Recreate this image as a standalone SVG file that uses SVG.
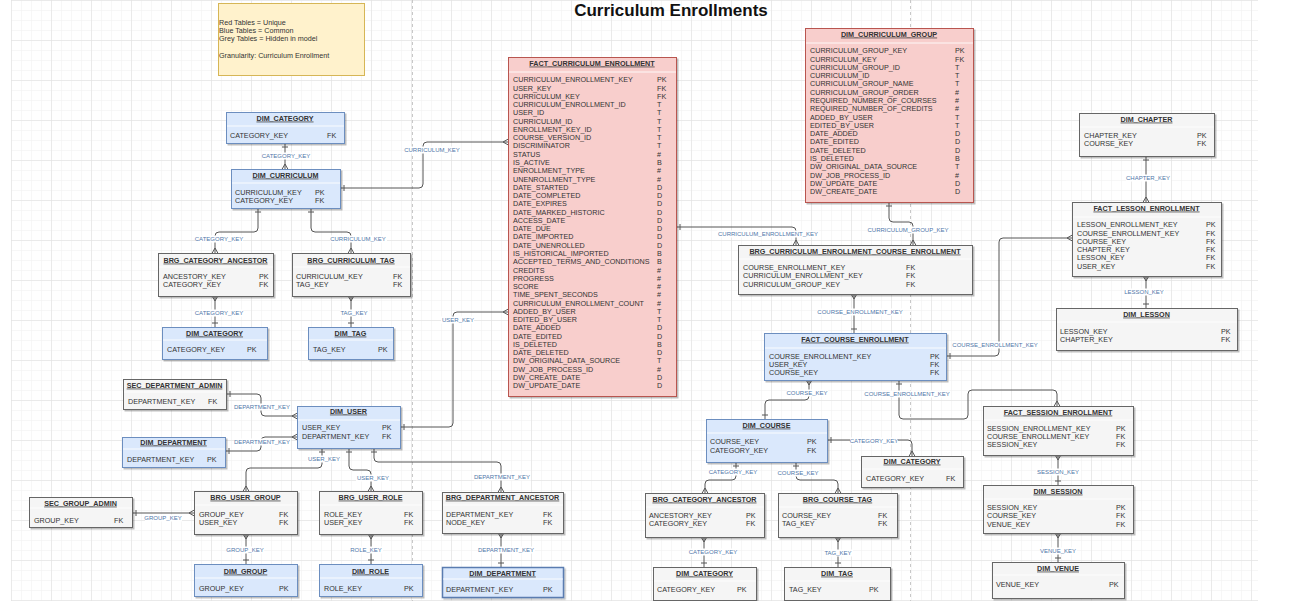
<svg xmlns="http://www.w3.org/2000/svg" width="1312" height="601" viewBox="0 0 1312 601">
<defs>
<pattern id="gmin" x="11" y="0" width="10" height="10" patternUnits="userSpaceOnUse"><path d="M10 0H0V10" fill="none" stroke="#efefef" stroke-width="1"/></pattern>
<pattern id="gmaj" x="11" y="0" width="40" height="40" patternUnits="userSpaceOnUse"><path d="M40 0H0V40" fill="none" stroke="#dedede" stroke-width="1"/></pattern>
<filter id="sh" x="-10%" y="-10%" width="130%" height="130%"><feDropShadow dx="1.5" dy="1.5" stdDeviation="0.7" flood-color="#000" flood-opacity="0.25"/></filter>
<marker id="one" markerUnits="userSpaceOnUse" orient="auto-start-reverse" overflow="visible" markerWidth="1" markerHeight="1" refX="0" refY="0"><path d="M-4,-3 L-4,3" stroke="#555" stroke-width="1" fill="none"/></marker>
<marker id="many" markerUnits="userSpaceOnUse" orient="auto-start-reverse" overflow="visible" markerWidth="1" markerHeight="1" refX="0" refY="0"><path d="M-5,0 L0,-2.8 M-5,0 L0,2.8" stroke="#555" stroke-width="1" fill="none"/></marker>
<style>
text{font-family:"Liberation Sans",Arial,sans-serif}
.box{stroke-width:1;filter:url(#sh)}
.blue .box{fill:#dae8fc;stroke:#6c8ebf}
.red .box{fill:#f8cecc;stroke:#b85450}
.grey .box{fill:#f5f5f5;stroke:#666}
.sep{stroke:#fff;stroke-opacity:.85;stroke-width:1}
.ttl{font-size:7.2px;font-weight:bold;text-anchor:middle;text-decoration:underline;fill:#333}
.row{font-size:7.2px;fill:#333}
.lbl{font-size:6px;fill:#4f76a8;text-anchor:middle}
.lb{fill:#fff}
.cn{fill:none;stroke:#555;stroke-width:1}
.om{marker-start:url(#one);marker-end:url(#many)}
.mo{marker-start:url(#many);marker-end:url(#one)}
</style>
</defs>
<rect width="1312" height="601" fill="#fff"/>
<rect x="11" y="0" width="1247" height="601" fill="url(#gmin)"/>
<rect x="11" y="0" width="1247" height="601" fill="url(#gmaj)"/>
<g stroke="#c8c8c8" stroke-dasharray="3,3"><line x1="412.5" y1="0" x2="412.5" y2="601"/><line x1="910.5" y1="0" x2="910.5" y2="601"/></g>

<text x="671" y="16" font-size="17" font-weight="bold" text-anchor="middle" fill="#111" font-family="Liberation Sans, Arial, sans-serif">Curriculum Enrollments</text>

<g id="legend">
<rect x="218.5" y="3.5" width="146" height="72" fill="#fff2cc" stroke="#d6b656"/>
<text class="row" x="219" y="24.5">Red Tables = Unique</text>
<text class="row" x="219" y="32.8">Blue Tables = Common</text>
<text class="row" x="219" y="41.1">Grey Tables = Hidden in model</text>
<text class="row" x="219" y="57.7">Granularity: Curriculum Enrollment</text>
</g>

<g id="connectors">
<path class="cn om" d="M285,143 L285,169"/>
<path class="cn om" d="M340,188 L419,188 Q423,188 423,184 L423,146 Q423,142 427,142 L508,142"/>
<path class="cn om" d="M258,208 L258,228 Q258,232 254,232 L219,232 Q215,232 215,236 L215,253"/>
<path class="cn om" d="M311,208 L311,228 Q311,232 315,232 L347,232 Q351,232 351,236 L351,253"/>
<path class="cn mo" d="M215,296 L215,327"/>
<path class="cn mo" d="M351,296 L351,327"/>
<path class="cn om" d="M226,394 L257,394 Q261,394 261,398 L261,412 Q261,416 265,416 L297,416"/>
<path class="cn om" d="M225,451 L257,451 Q261,451 261,447 L261,441 Q261,437 265,437 L297,437"/>
<path class="cn om" d="M400,427 L449,427 Q453,427 453,423 L453,316 Q453,312 457,312 L508,312"/>
<path class="cn om" d="M322,448 L322,464 Q322,468 318,468 L250,468 Q246,468 246,472 L246,491"/>
<path class="cn om" d="M349,448 L349,466 Q349,470 353,470 L367,470 Q371,470 371,474 L371,491"/>
<path class="cn om" d="M374,448 L374,458 Q374,462 378,462 L497,462 Q501,462 501,466 L501,492"/>
<path class="cn om" d="M132,513 L194,513"/>
<path class="cn mo" d="M246,534 L246,564"/>
<path class="cn mo" d="M371,534 L371,564"/>
<path class="cn mo" d="M501,533 L501,567"/>
<path class="cn om" d="M676,227 L792,227 Q796,227 796,231 L796,245"/>
<path class="cn om" d="M889,202 L889,218 Q889,222 893,222 L909,222 Q913,222 913,226 L913,245"/>
<path class="cn mo" d="M854,294 L854,333"/>
<path class="cn om" d="M946,356 L995,356 Q999,356 999,352 L999,242 Q999,238 1003,238 L1072,238"/>
<path class="cn om" d="M1146,156 L1146,202"/>
<path class="cn mo" d="M1146,276 L1146,308"/>
<path class="cn mo" d="M809,380 L809,396 Q809,400 805,400 L769,400 Q765,400 765,404 L765,419"/>
<path class="cn om" d="M899,380 L899,415 Q899,419 903,419 L964,419 Q968,419 968,415 L968,394 Q968,390 972,390 L1053,390 Q1057,390 1057,394 L1057,406"/>
<path class="cn om" d="M827,440 L908,440 Q912,440 912,444 L912,456"/>
<path class="cn om" d="M736,462 L736,476 Q736,480 732,480 L709,480 Q705,480 705,484 L705,493"/>
<path class="cn om" d="M796,462 L796,476 Q796,480 800,480 L834,480 Q838,480 838,484 L838,493"/>
<path class="cn mo" d="M704,537 L704,567"/>
<path class="cn mo" d="M838,537 L838,567"/>
<path class="cn mo" d="M1058,455 L1058,485"/>
<path class="cn mo" d="M1058,533 L1058,562"/>
<g>
<rect class="lb" x="262" y="152.5" width="48" height="7"/><text class="lbl" x="286" y="158.2">CATEGORY_KEY</text>
<rect class="lb" x="404" y="146.5" width="57" height="7"/><text class="lbl" x="432" y="152.2">CURRICULUM_KEY</text>
<rect class="lb" x="195" y="235.5" width="48" height="7"/><text class="lbl" x="219" y="241.2">CATEGORY_KEY</text>
<rect class="lb" x="330" y="235.5" width="57" height="7"/><text class="lbl" x="358" y="241.2">CURRICULUM_KEY</text>
<rect class="lb" x="195" y="309.5" width="48" height="7"/><text class="lbl" x="219" y="315.2">CATEGORY_KEY</text>
<rect class="lb" x="340" y="309.5" width="29" height="7"/><text class="lbl" x="354" y="315.2">TAG_KEY</text>
<rect class="lb" x="234" y="403.5" width="57" height="7"/><text class="lbl" x="262" y="409.2">DEPARTMENT_KEY</text>
<rect class="lb" x="234" y="438.5" width="57" height="7"/><text class="lbl" x="262" y="444.2">DEPARTMENT_KEY</text>
<rect class="lb" x="441" y="316.5" width="33" height="7"/><text class="lbl" x="458" y="322.2">USER_KEY</text>
<rect class="lb" x="307" y="455.5" width="33" height="7"/><text class="lbl" x="324" y="461.2">USER_KEY</text>
<rect class="lb" x="356" y="474.5" width="33" height="7"/><text class="lbl" x="373" y="480.2">USER_KEY</text>
<rect class="lb" x="474" y="473.5" width="57" height="7"/><text class="lbl" x="502" y="479.2">DEPARTMENT_KEY</text>
<rect class="lb" x="145" y="514.5" width="37" height="7"/><text class="lbl" x="163" y="520.2">GROUP_KEY</text>
<rect class="lb" x="227" y="546.5" width="37" height="7"/><text class="lbl" x="245" y="552.2">GROUP_KEY</text>
<rect class="lb" x="350" y="546.5" width="33" height="7"/><text class="lbl" x="366" y="552.2">ROLE_KEY</text>
<rect class="lb" x="478" y="546.5" width="57" height="7"/><text class="lbl" x="506" y="552.2">DEPARTMENT_KEY</text>
<rect class="lb" x="717" y="230.5" width="102" height="7"/><text class="lbl" x="768" y="236.2">CURRICULUM_ENROLLMENT_KEY</text>
<rect class="lb" x="867" y="226.5" width="82" height="7"/><text class="lbl" x="908" y="232.2">CURRICULUM_GROUP_KEY</text>
<rect class="lb" x="817" y="308.5" width="86" height="7"/><text class="lbl" x="860" y="314.2">COURSE_ENROLLMENT_KEY</text>
<rect class="lb" x="952" y="341.5" width="86" height="7"/><text class="lbl" x="995" y="347.2">COURSE_ENROLLMENT_KEY</text>
<rect class="lb" x="1126" y="174.5" width="45" height="7"/><text class="lbl" x="1148" y="180.2">CHAPTER_KEY</text>
<rect class="lb" x="1124" y="288.5" width="41" height="7"/><text class="lbl" x="1144" y="294.2">LESSON_KEY</text>
<rect class="lb" x="787" y="389.5" width="41" height="7"/><text class="lbl" x="807" y="395.2">COURSE_KEY</text>
<rect class="lb" x="864" y="390.5" width="86" height="7"/><text class="lbl" x="907" y="396.2">COURSE_ENROLLMENT_KEY</text>
<rect class="lb" x="850" y="437.5" width="48" height="7"/><text class="lbl" x="874" y="443.2">CATEGORY_KEY</text>
<rect class="lb" x="709" y="468.5" width="48" height="7"/><text class="lbl" x="733" y="474.2">CATEGORY_KEY</text>
<rect class="lb" x="778" y="469.5" width="41" height="7"/><text class="lbl" x="798" y="475.2">COURSE_KEY</text>
<rect class="lb" x="689" y="548.5" width="48" height="7"/><text class="lbl" x="713" y="554.2">CATEGORY_KEY</text>
<rect class="lb" x="824" y="549.5" width="29" height="7"/><text class="lbl" x="838" y="555.2">TAG_KEY</text>
<rect class="lb" x="1036" y="468.5" width="45" height="7"/><text class="lbl" x="1058" y="474.2">SESSION_KEY</text>
<rect class="lb" x="1040" y="547.5" width="37" height="7"/><text class="lbl" x="1058" y="553.2">VENUE_KEY</text>
</g>
</g>

<g id="dim_category_top" class="blue">
<rect class="box" x="226.5" y="112.5" width="118" height="31"/><line class="sep" x1="227" y1="126" x2="344" y2="126"/>
<text class="ttl" x="285" y="120.6">DIM_CATEGORY</text>
<text class="row" x="230" y="137.6">CATEGORY_KEY</text><text class="row" x="327" y="137.6">FK</text>
</g>

<g id="dim_curriculum" class="blue">
<rect class="box" x="231.5" y="169.5" width="109" height="39"/><line class="sep" x1="232" y1="183" x2="340" y2="183"/>
<text class="ttl" x="285.5" y="177.6">DIM_CURRICULUM</text>
<text class="row" x="235" y="194.6">CURRICULUM_KEY</text><text class="row" x="315" y="194.6">PK</text>
<text class="row" x="235" y="203.2">CATEGORY_KEY</text><text class="row" x="315" y="203.2">FK</text>
</g>

<g id="brg_category_ancestor_left" class="grey">
<rect class="box" x="158.5" y="253.5" width="115" height="43"/><line class="sep" x1="159" y1="267" x2="273" y2="267"/>
<text class="ttl" x="215.5" y="262.6">BRG_CATEGORY_ANCESTOR</text>
<text class="row" x="163" y="278.6">ANCESTORY_KEY</text><text class="row" x="259" y="278.6">PK</text>
<text class="row" x="163" y="287.2">CATEGORY_KEY</text><text class="row" x="259" y="287.2">FK</text>
</g>

<g id="brg_curriculum_tag" class="grey">
<rect class="box" x="292.5" y="253.5" width="118" height="43"/><line class="sep" x1="293" y1="267" x2="410" y2="267"/>
<text class="ttl" x="351" y="262.6">BRG_CURRICULUM_TAG</text>
<text class="row" x="296" y="278.6">CURRICULUM_KEY</text><text class="row" x="393" y="278.6">FK</text>
<text class="row" x="296" y="287.2">TAG_KEY</text><text class="row" x="393" y="287.2">FK</text>
</g>

<g id="dim_category_left" class="blue">
<rect class="box" x="162.5" y="327.5" width="105" height="32"/><line class="sep" x1="163" y1="340" x2="267" y2="340"/>
<text class="ttl" x="214.5" y="335.6">DIM_CATEGORY</text>
<text class="row" x="167" y="351.6">CATEGORY_KEY</text><text class="row" x="247" y="351.6">PK</text>
</g>

<g id="dim_tag_left" class="blue">
<rect class="box" x="308.5" y="327.5" width="85" height="32"/><line class="sep" x1="309" y1="340" x2="393" y2="340"/>
<text class="ttl" x="350.5" y="335.6">DIM_TAG</text>
<text class="row" x="313" y="351.6">TAG_KEY</text><text class="row" x="378" y="351.6">PK</text>
</g>

<g id="sec_department_admin" class="grey">
<rect class="box" x="123.5" y="379.5" width="103" height="30"/><line class="sep" x1="124" y1="392" x2="226" y2="392"/>
<text class="ttl" x="174.5" y="387.6">SEC_DEPARTMENT_ADMIN</text>
<text class="row" x="128" y="404.3">DEPARTMENT_KEY</text><text class="row" x="208" y="404.3">FK</text>
</g>

<g id="dim_department_left" class="blue">
<rect class="box" x="122.5" y="437.5" width="103" height="30"/><line class="sep" x1="123" y1="449" x2="225" y2="449"/>
<text class="ttl" x="173.5" y="444.6">DIM_DEPARTMENT</text>
<text class="row" x="127" y="461.6">DEPARTMENT_KEY</text><text class="row" x="207" y="461.6">PK</text>
</g>

<g id="dim_user" class="blue">
<rect class="box" x="297.5" y="406.5" width="103" height="42"/><line class="sep" x1="298" y1="420" x2="400" y2="420"/>
<text class="ttl" x="348.5" y="413.6">DIM_USER</text>
<text class="row" x="302" y="430.3">USER_KEY</text><text class="row" x="382" y="430.3">PK</text>
<text class="row" x="302" y="438.5">DEPARTMENT_KEY</text><text class="row" x="382" y="438.5">FK</text>
</g>

<g id="sec_group_admin" class="grey">
<rect class="box" x="29.5" y="497.5" width="103" height="30"/><line class="sep" x1="30" y1="508" x2="132" y2="508"/>
<text class="ttl" x="80.5" y="505.6">SEC_GROUP_ADMIN</text>
<text class="row" x="34" y="522.6">GROUP_KEY</text><text class="row" x="114" y="522.6">FK</text>
</g>

<g id="brg_user_group" class="grey">
<rect class="box" x="194.5" y="491.5" width="103" height="43"/><line class="sep" x1="195" y1="505" x2="297" y2="505"/>
<text class="ttl" x="245.5" y="499.6">BRG_USER_GROUP</text>
<text class="row" x="199" y="516.6">GROUP_KEY</text><text class="row" x="279" y="516.6">FK</text>
<text class="row" x="199" y="524.6">USER_KEY</text><text class="row" x="279" y="524.6">FK</text>
</g>

<g id="brg_user_role" class="grey">
<rect class="box" x="319.5" y="491.5" width="103" height="43"/><line class="sep" x1="320" y1="505" x2="422" y2="505"/>
<text class="ttl" x="370.5" y="499.6">BRG_USER_ROLE</text>
<text class="row" x="324" y="516.6">ROLE_KEY</text><text class="row" x="404" y="516.6">FK</text>
<text class="row" x="324" y="524.6">USER_KEY</text><text class="row" x="404" y="524.6">FK</text>
</g>

<g id="dim_group" class="blue">
<rect class="box" x="194.5" y="564.5" width="103" height="32"/><line class="sep" x1="195" y1="578" x2="297" y2="578"/>
<text class="ttl" x="245.5" y="573.6">DIM_GROUP</text>
<text class="row" x="199" y="590.6">GROUP_KEY</text><text class="row" x="279" y="590.6">PK</text>
</g>

<g id="dim_role" class="blue">
<rect class="box" x="319.5" y="564.5" width="103" height="32"/><line class="sep" x1="320" y1="578" x2="422" y2="578"/>
<text class="ttl" x="370.5" y="573.6">DIM_ROLE</text>
<text class="row" x="324" y="590.6">ROLE_KEY</text><text class="row" x="404" y="590.6">PK</text>
</g>

<g id="brg_department_ancestor" class="grey">
<rect class="box" x="442.5" y="492.5" width="121" height="41"/><line class="sep" x1="443" y1="505" x2="563" y2="505"/>
<text class="ttl" x="502.5" y="499.6">BRG_DEPARTMENT_ANCESTOR</text>
<text class="row" x="446" y="516.6">DEPARTMENT_KEY</text><text class="row" x="543" y="516.6">FK</text>
<text class="row" x="446" y="524.6">NODE_KEY</text><text class="row" x="543" y="524.6">FK</text>
</g>

<g id="dim_department_bottom" class="blue">
<rect class="box" x="442.5" y="567.5" width="121" height="30" style="stroke:#5a7bb0;stroke-width:1.5"/><line class="sep" x1="443" y1="579" x2="563" y2="579"/>
<text class="ttl" x="502.5" y="575.6">DIM_DEPARTMENT</text>
<text class="row" x="446" y="591.6">DEPARTMENT_KEY</text><text class="row" x="543" y="591.6">PK</text>
</g>

<g id="fact_curriculum_enrollment" class="red">
<rect class="box" x="508.5" y="57.5" width="168" height="339"/><line class="sep" x1="509" y1="72" x2="676" y2="72"/>
<text class="ttl" x="592" y="65.6">FACT_CURRICULUM_ENROLLMENT</text>
<text class="row" x="513" y="82.3"><tspan x="513" dy="0">CURRICULUM_ENROLLMENT_KEY</tspan><tspan x="513" dy="8.27">USER_KEY</tspan><tspan x="513" dy="8.27">CURRICULUM_KEY</tspan><tspan x="513" dy="8.27">CURRICULUM_ENROLLMENT_ID</tspan><tspan x="513" dy="8.27">USER_ID</tspan><tspan x="513" dy="8.27">CURRICULUM_ID</tspan><tspan x="513" dy="8.27">ENROLLMENT_KEY_ID</tspan><tspan x="513" dy="8.27">COURSE_VERSION_ID</tspan><tspan x="513" dy="8.27">DISCRIMINATOR</tspan><tspan x="513" dy="8.27">STATUS</tspan><tspan x="513" dy="8.27">IS_ACTIVE</tspan><tspan x="513" dy="8.27">ENROLLMENT_TYPE</tspan><tspan x="513" dy="8.27">UNENROLLMENT_TYPE</tspan><tspan x="513" dy="8.27">DATE_STARTED</tspan><tspan x="513" dy="8.27">DATE_COMPLETED</tspan><tspan x="513" dy="8.27">DATE_EXPIRES</tspan><tspan x="513" dy="8.27">DATE_MARKED_HISTORIC</tspan><tspan x="513" dy="8.27">ACCESS_DATE</tspan><tspan x="513" dy="8.27">DATE_DUE</tspan><tspan x="513" dy="8.27">DATE_IMPORTED</tspan><tspan x="513" dy="8.27">DATE_UNENROLLED</tspan><tspan x="513" dy="8.27">IS_HISTORICAL_IMPORTED</tspan><tspan x="513" dy="8.27">ACCEPTED_TERMS_AND_CONDITIONS</tspan><tspan x="513" dy="8.27">CREDITS</tspan><tspan x="513" dy="8.27">PROGRESS</tspan><tspan x="513" dy="8.27">SCORE</tspan><tspan x="513" dy="8.27">TIME_SPENT_SECONDS</tspan><tspan x="513" dy="8.27">CURRICULUM_ENROLLMENT_COUNT</tspan><tspan x="513" dy="8.27">ADDED_BY_USER</tspan><tspan x="513" dy="8.27">EDITED_BY_USER</tspan><tspan x="513" dy="8.27">DATE_ADDED</tspan><tspan x="513" dy="8.27">DATE_EDITED</tspan><tspan x="513" dy="8.27">IS_DELETED</tspan><tspan x="513" dy="8.27">DATE_DELETED</tspan><tspan x="513" dy="8.27">DW_ORIGINAL_DATA_SOURCE</tspan><tspan x="513" dy="8.27">DW_JOB_PROCESS_ID</tspan><tspan x="513" dy="8.27">DW_CREATE_DATE</tspan><tspan x="513" dy="8.27">DW_UPDATE_DATE</tspan></text>
<text class="row" x="657" y="82.3"><tspan x="657" dy="0">PK</tspan><tspan x="657" dy="8.27">FK</tspan><tspan x="657" dy="8.27">FK</tspan><tspan x="657" dy="8.27">T</tspan><tspan x="657" dy="8.27">T</tspan><tspan x="657" dy="8.27">T</tspan><tspan x="657" dy="8.27">T</tspan><tspan x="657" dy="8.27">T</tspan><tspan x="657" dy="8.27">T</tspan><tspan x="657" dy="8.27">#</tspan><tspan x="657" dy="8.27">B</tspan><tspan x="657" dy="8.27">#</tspan><tspan x="657" dy="8.27">#</tspan><tspan x="657" dy="8.27">D</tspan><tspan x="657" dy="8.27">D</tspan><tspan x="657" dy="8.27">D</tspan><tspan x="657" dy="8.27">D</tspan><tspan x="657" dy="8.27">D</tspan><tspan x="657" dy="8.27">D</tspan><tspan x="657" dy="8.27">D</tspan><tspan x="657" dy="8.27">D</tspan><tspan x="657" dy="8.27">B</tspan><tspan x="657" dy="8.27">B</tspan><tspan x="657" dy="8.27">#</tspan><tspan x="657" dy="8.27">#</tspan><tspan x="657" dy="8.27">#</tspan><tspan x="657" dy="8.27">#</tspan><tspan x="657" dy="8.27">#</tspan><tspan x="657" dy="8.27">T</tspan><tspan x="657" dy="8.27">T</tspan><tspan x="657" dy="8.27">D</tspan><tspan x="657" dy="8.27">D</tspan><tspan x="657" dy="8.27">B</tspan><tspan x="657" dy="8.27">D</tspan><tspan x="657" dy="8.27">T</tspan><tspan x="657" dy="8.27">#</tspan><tspan x="657" dy="8.27">D</tspan><tspan x="657" dy="8.27">D</tspan></text>
</g>

<g id="dim_curriculum_group" class="red">
<rect class="box" x="805.5" y="28.5" width="168" height="174"/><line class="sep" x1="806" y1="43" x2="973" y2="43"/>
<text class="ttl" x="889" y="36.6">DIM_CURRICULUM_GROUP</text>
<text class="row" x="810" y="53.3"><tspan x="810" dy="0">CURRICULUM_GROUP_KEY</tspan><tspan x="810" dy="8.29">CURRICULUM_KEY</tspan><tspan x="810" dy="8.29">CURRICULUM_GROUP_ID</tspan><tspan x="810" dy="8.29">CURRICULUM_ID</tspan><tspan x="810" dy="8.29">CURRICULUM_GROUP_NAME</tspan><tspan x="810" dy="8.29">CURRICULUM_GROUP_ORDER</tspan><tspan x="810" dy="8.29">REQUIRED_NUMBER_OF_COURSES</tspan><tspan x="810" dy="8.29">REQUIRED_NUMBER_OF_CREDITS</tspan><tspan x="810" dy="8.29">ADDED_BY_USER</tspan><tspan x="810" dy="8.29">EDITED_BY_USER</tspan><tspan x="810" dy="8.29">DATE_ADDED</tspan><tspan x="810" dy="8.29">DATE_EDITED</tspan><tspan x="810" dy="8.29">DATE_DELETED</tspan><tspan x="810" dy="8.29">IS_DELETED</tspan><tspan x="810" dy="8.29">DW_ORIGINAL_DATA_SOURCE</tspan><tspan x="810" dy="8.29">DW_JOB_PROCESS_ID</tspan><tspan x="810" dy="8.29">DW_UPDATE_DATE</tspan><tspan x="810" dy="8.29">DW_CREATE_DATE</tspan></text>
<text class="row" x="955" y="53.3"><tspan x="955" dy="0">PK</tspan><tspan x="955" dy="8.29">FK</tspan><tspan x="955" dy="8.29">T</tspan><tspan x="955" dy="8.29">T</tspan><tspan x="955" dy="8.29">T</tspan><tspan x="955" dy="8.29">#</tspan><tspan x="955" dy="8.29">#</tspan><tspan x="955" dy="8.29">#</tspan><tspan x="955" dy="8.29">T</tspan><tspan x="955" dy="8.29">T</tspan><tspan x="955" dy="8.29">D</tspan><tspan x="955" dy="8.29">D</tspan><tspan x="955" dy="8.29">D</tspan><tspan x="955" dy="8.29">B</tspan><tspan x="955" dy="8.29">T</tspan><tspan x="955" dy="8.29">#</tspan><tspan x="955" dy="8.29">D</tspan><tspan x="955" dy="8.29">D</tspan></text>
</g>

<g id="brg_curriculum_enrollment_course_enrollment" class="grey">
<rect class="box" x="738.5" y="245.5" width="234" height="49"/><line class="sep" x1="739" y1="259" x2="972" y2="259"/>
<text class="ttl" x="855" y="253.6">BRG_CURRICULUM_ENROLLMENT_COURSE_ENROLLMENT</text>
<text class="row" x="743" y="269.9">COURSE_ENROLLMENT_KEY</text><text class="row" x="906" y="269.9">FK</text>
<text class="row" x="743" y="278.3">CURRICULUM_ENROLLMENT_KEY</text><text class="row" x="906" y="278.3">FK</text>
<text class="row" x="743" y="286.6">CURRICULUM_GROUP_KEY</text><text class="row" x="906" y="286.6">FK</text>
</g>

<g id="fact_course_enrollment" class="blue">
<rect class="box" x="764.5" y="333.5" width="182" height="47"/><line class="sep" x1="765" y1="348" x2="946" y2="348"/>
<text class="ttl" x="855" y="341.6">FACT_COURSE_ENROLLMENT</text>
<text class="row" x="769" y="359.3">COURSE_ENROLLMENT_KEY</text><text class="row" x="930" y="359.3">PK</text>
<text class="row" x="769" y="367.1">USER_KEY</text><text class="row" x="930" y="367.1">FK</text>
<text class="row" x="769" y="375.3">COURSE_KEY</text><text class="row" x="930" y="375.3">FK</text>
</g>

<g id="dim_chapter" class="grey">
<rect class="box" x="1079.5" y="113.5" width="135" height="43"/><line class="sep" x1="1080" y1="127" x2="1214" y2="127"/>
<text class="ttl" x="1146.5" y="121.6">DIM_CHAPTER</text>
<text class="row" x="1084" y="137.9">CHAPTER_KEY</text><text class="row" x="1197" y="137.9">PK</text>
<text class="row" x="1084" y="146.3">COURSE_KEY</text><text class="row" x="1197" y="146.3">FK</text>
</g>

<g id="fact_lesson_enrollment" class="grey">
<rect class="box" x="1072.5" y="202.5" width="149" height="74"/><line class="sep" x1="1073" y1="217" x2="1221" y2="217"/>
<text class="ttl" x="1146.5" y="210.6">FACT_LESSON_ENROLLMENT</text>
<text class="row" x="1077" y="227.3"><tspan x="1077" dy="0">LESSON_ENROLLMENT_KEY</tspan><tspan x="1077" dy="8.27">COURSE_ENROLLMENT_KEY</tspan><tspan x="1077" dy="8.27">COURSE_KEY</tspan><tspan x="1077" dy="8.27">CHAPTER_KEY</tspan><tspan x="1077" dy="8.27">LESSON_KEY</tspan><tspan x="1077" dy="8.27">USER_KEY</tspan></text>
<text class="row" x="1206" y="227.3"><tspan x="1206" dy="0">PK</tspan><tspan x="1206" dy="8.27">FK</tspan><tspan x="1206" dy="8.27">FK</tspan><tspan x="1206" dy="8.27">FK</tspan><tspan x="1206" dy="8.27">FK</tspan><tspan x="1206" dy="8.27">FK</tspan></text>
</g>

<g id="dim_lesson" class="grey">
<rect class="box" x="1056.5" y="308.5" width="181" height="42"/><line class="sep" x1="1057" y1="322" x2="1237" y2="322"/>
<text class="ttl" x="1146.5" y="316.6">DIM_LESSON</text>
<text class="row" x="1060" y="333.6">LESSON_KEY</text><text class="row" x="1221" y="333.6">PK</text>
<text class="row" x="1060" y="341.9">CHAPTER_KEY</text><text class="row" x="1221" y="341.9">FK</text>
</g>

<g id="dim_course" class="blue">
<rect class="box" x="706.5" y="419.5" width="121" height="43"/><line class="sep" x1="707" y1="433" x2="827" y2="433"/>
<text class="ttl" x="766.5" y="427.6">DIM_COURSE</text>
<text class="row" x="710" y="444.3">COURSE_KEY</text><text class="row" x="807" y="444.3">PK</text>
<text class="row" x="710" y="452.6">CATEGORY_KEY</text><text class="row" x="807" y="452.6">FK</text>
</g>

<g id="dim_category_right" class="grey">
<rect class="box" x="861.5" y="456.5" width="102" height="31"/><line class="sep" x1="862" y1="469" x2="963" y2="469"/>
<text class="ttl" x="912" y="463.6">DIM_CATEGORY</text>
<text class="row" x="866" y="480.6">CATEGORY_KEY</text><text class="row" x="946" y="480.6">FK</text>
</g>

<g id="brg_category_ancestor_right" class="grey">
<rect class="box" x="645.5" y="493.5" width="119" height="44"/><line class="sep" x1="646" y1="507" x2="764" y2="507"/>
<text class="ttl" x="704.5" y="501.6">BRG_CATEGORY_ANCESTOR</text>
<text class="row" x="649" y="517.6">ANCESTORY_KEY</text><text class="row" x="746" y="517.6">PK</text>
<text class="row" x="649" y="526.3">CATEGORY_KEY</text><text class="row" x="746" y="526.3">FK</text>
</g>

<g id="brg_course_tag" class="grey">
<rect class="box" x="778.5" y="493.5" width="119" height="44"/><line class="sep" x1="779" y1="507" x2="897" y2="507"/>
<text class="ttl" x="837.5" y="501.6">BRG_COURSE_TAG</text>
<text class="row" x="782" y="517.6">COURSE_KEY</text><text class="row" x="878" y="517.6">FK</text>
<text class="row" x="782" y="526.3">TAG_KEY</text><text class="row" x="878" y="526.3">FK</text>
</g>

<g id="dim_category_bottom_right" class="grey">
<rect class="box" x="653.5" y="567.5" width="103" height="33"/><line class="sep" x1="654" y1="581" x2="756" y2="581"/>
<text class="ttl" x="704.5" y="575.6">DIM_CATEGORY</text>
<text class="row" x="657" y="591.6">CATEGORY_KEY</text><text class="row" x="737" y="591.6">PK</text>
</g>

<g id="dim_tag_right" class="grey">
<rect class="box" x="784.5" y="567.5" width="106" height="33"/><line class="sep" x1="785" y1="581" x2="890" y2="581"/>
<text class="ttl" x="837" y="575.6">DIM_TAG</text>
<text class="row" x="789" y="591.6">TAG_KEY</text><text class="row" x="869" y="591.6">PK</text>
</g>

<g id="fact_session_enrollment" class="grey">
<rect class="box" x="983.5" y="406.5" width="150" height="49"/><line class="sep" x1="984" y1="420" x2="1133" y2="420"/>
<text class="ttl" x="1058" y="414.6">FACT_SESSION_ENROLLMENT</text>
<text class="row" x="987" y="430.6">SESSION_ENROLLMENT_KEY</text><text class="row" x="1116" y="430.6">PK</text>
<text class="row" x="987" y="439.1">COURSE_ENROLLMENT_KEY</text><text class="row" x="1116" y="439.1">FK</text>
<text class="row" x="987" y="446.9">SESSION_KEY</text><text class="row" x="1116" y="446.9">FK</text>
</g>

<g id="dim_session" class="grey">
<rect class="box" x="983.5" y="485.5" width="150" height="48"/><line class="sep" x1="984" y1="499" x2="1133" y2="499"/>
<text class="ttl" x="1058" y="493.6">DIM_SESSION</text>
<text class="row" x="987" y="509.6">SESSION_KEY</text><text class="row" x="1116" y="509.6">PK</text>
<text class="row" x="987" y="518.3">COURSE_KEY</text><text class="row" x="1116" y="518.3">FK</text>
<text class="row" x="987" y="526.6">VENUE_KEY</text><text class="row" x="1116" y="526.6">FK</text>
</g>

<g id="dim_venue" class="grey">
<rect class="box" x="992.5" y="562.5" width="132" height="36"/><line class="sep" x1="993" y1="575" x2="1124" y2="575"/>
<text class="ttl" x="1058" y="570.6">DIM_VENUE</text>
<text class="row" x="996" y="586.6">VENUE_KEY</text><text class="row" x="1109" y="586.6">PK</text>
</g>
</svg>
